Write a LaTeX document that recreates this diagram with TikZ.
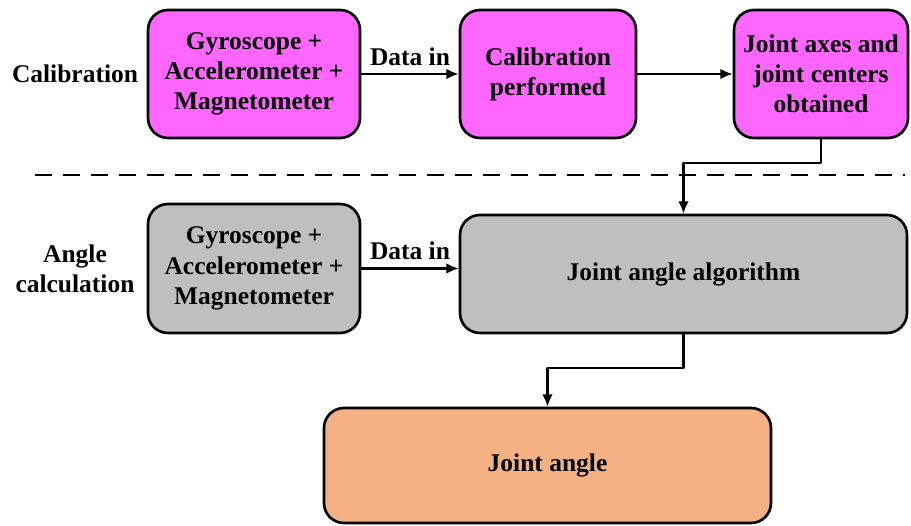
\documentclass[tikz,border=0pt]{standalone}
\usepackage{fontspec}
\setmainfont{Liberation Serif}
\usetikzlibrary{arrows.meta}
\definecolor{calibpink}{HTML}{FF66FF}
\definecolor{anglegray}{HTML}{BFBFBF}
\definecolor{resultorange}{HTML}{F4B183}
\begin{document}
\begin{tikzpicture}[line join=round, line width=1.2pt,
		box/.style={draw, line width=1.5pt, rounded corners=0.4cm, align=center, inner sep=2pt,
			font=\fontsize{14.5}{17.2}\selectfont\bfseries},
		lbl/.style={align=center, font=\fontsize{14.5}{17.2}\selectfont\bfseries},
		arr/.style={-{Latex[length=7pt,width=6pt]}}]
		\useasboundingbox (0,0) rectangle (18.22,-10.52);
		% calibration row
		\node[box, fill=calibpink, minimum width=4.24cm, minimum height=2.56cm] (sensA) at (5.08,-1.48) {Gyroscope +\\Accelerometer +\\Magnetometer};
		\node[box, fill=calibpink, minimum width=3.52cm, minimum height=2.56cm] (calib) at (10.96,-1.48) {Calibration\\performed};
		\node[box, fill=calibpink, minimum width=3.48cm, minimum height=2.56cm] (axes) at (16.42,-1.48) {Joint axes and\\joint centers\\obtained};
		% angle calculation row
		\node[box, fill=anglegray, minimum width=4.24cm, minimum height=2.58cm] (sensB) at (5.08,-5.37) {Gyroscope +\\Accelerometer +\\Magnetometer};
		\node[box, fill=anglegray, minimum width=8.94cm, minimum height=2.36cm] (algo) at (13.67,-5.48) {Joint angle algorithm};
		\node[box, fill=resultorange, minimum width=8.94cm, minimum height=2.3cm] (angle) at (10.95,-9.31) {Joint angle};
		\node[lbl] (calibLbl) at (1.5,-1.48) {Calibration};
		\node[lbl] (angleLbl) at (1.5,-5.37) {Angle\\calculation};
		\coordinate (dashL) at (0.7,-3.5);
		\coordinate (dashR) at (18.1,-3.5);
		\draw[dashed, line width=1.7pt, dash pattern=on 0.34cm off 0.22cm] (dashL)--(dashR);
		% connectors
		\draw[arr] (sensA.east) -- node[lbl, above=1pt] {Data in} (calib.west);
		\draw[arr] (calib.east) -- (axes.west);
		\draw[arr] (sensB.east) -- node[lbl, above=1pt] {Data in} (sensB.east -| algo.west);
		\draw[arr] (axes.south) -- ++(0,-0.48) -| (algo.north);
		\draw[arr] (algo.south) -- ++(0,-0.68) -| (angle.north);
	\end{tikzpicture}
\end{document}
